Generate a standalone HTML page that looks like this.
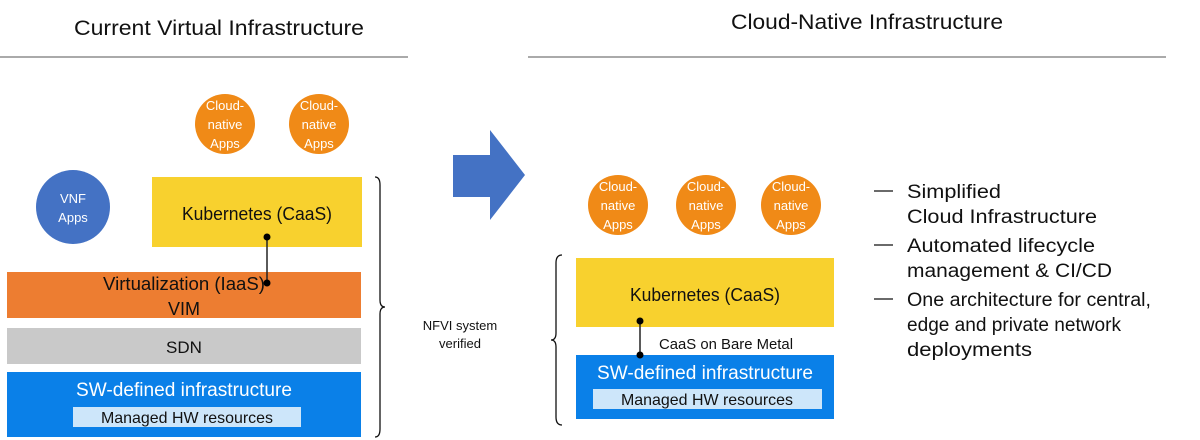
<!DOCTYPE html>
<html><head><style>body{margin:0;background:#fff}svg{display:block}text{font-family:"Liberation Sans",sans-serif}</style></head>
<body>
<svg width="1200" height="440" viewBox="0 0 1200 440" xmlns="http://www.w3.org/2000/svg">
<text x="219" y="35" font-size="21" text-anchor="middle" textLength="290" lengthAdjust="spacingAndGlyphs" fill="#111">Current Virtual Infrastructure</text>
<line x1="0" y1="57" x2="408" y2="57" stroke="#555" stroke-width="1"/>
<text x="867" y="29" font-size="21" text-anchor="middle" textLength="272" lengthAdjust="spacingAndGlyphs" fill="#111">Cloud-Native Infrastructure</text>
<line x1="528" y1="57" x2="1166" y2="57" stroke="#555" stroke-width="1"/>

<g font-size="13" fill="#fff" text-anchor="middle">
<circle cx="225" cy="124" r="30" fill="#f08a17"/>
<text x="225" y="110">Cloud-</text><text x="225" y="129">native</text><text x="225" y="148">Apps</text>
<circle cx="319" cy="124" r="30" fill="#f08a17"/>
<text x="319" y="110">Cloud-</text><text x="319" y="129">native</text><text x="319" y="148">Apps</text>
<circle cx="73" cy="207" r="37" fill="#4472c4"/>
<text x="73" y="203">VNF</text><text x="73" y="222">Apps</text>
<circle cx="618" cy="205" r="30" fill="#f08a17"/>
<text x="618" y="191">Cloud-</text><text x="618" y="210">native</text><text x="618" y="229">Apps</text>
<circle cx="706" cy="205" r="30" fill="#f08a17"/>
<text x="706" y="191">Cloud-</text><text x="706" y="210">native</text><text x="706" y="229">Apps</text>
<circle cx="791" cy="205" r="30" fill="#f08a17"/>
<text x="791" y="191">Cloud-</text><text x="791" y="210">native</text><text x="791" y="229">Apps</text>
</g>

<rect x="152" y="177" width="210" height="70" fill="#f8d12e"/>
<text x="257" y="220" font-size="18" text-anchor="middle" fill="#111" textLength="150" lengthAdjust="spacingAndGlyphs">Kubernetes (CaaS)</text>
<rect x="7" y="272" width="354" height="46" fill="#ed7d31"/>
<text x="184" y="290" font-size="18" text-anchor="middle" fill="#111" textLength="162" lengthAdjust="spacingAndGlyphs">Virtualization (IaaS)</text>
<text x="184" y="315" font-size="18" text-anchor="middle" fill="#111">VIM</text>
<rect x="7" y="328" width="354" height="36" fill="#c9c9c9"/>
<text x="184" y="353" font-size="17" text-anchor="middle" fill="#111">SDN</text>
<rect x="7" y="372" width="354" height="65" fill="#0a80e8"/>
<text x="184" y="396" font-size="19" text-anchor="middle" fill="#fff" textLength="216" lengthAdjust="spacingAndGlyphs">SW-defined infrastructure</text>
<rect x="73" y="407" width="228" height="20" fill="#cde6fa"/>
<text x="187" y="423" font-size="16" text-anchor="middle" fill="#111" textLength="172" lengthAdjust="spacingAndGlyphs">Managed HW resources</text>
<line x1="267" y1="237" x2="267" y2="283" stroke="#222" stroke-width="1.5"/>
<circle cx="267" cy="237" r="3.5" fill="#000"/><circle cx="267" cy="283" r="3.5" fill="#000"/>

<path d="M375,177 Q380,177 380,185 L380,300 Q380,307 385,307 Q380,307 380,314 L380,429 Q380,437 375,437" fill="none" stroke="#111" stroke-width="1.3"/>

<polygon points="453,155 490,155 490,130 525,175 490,220 490,197 453,197" fill="#4472c4"/>
<text x="460" y="330" font-size="13" text-anchor="middle" fill="#111">NFVI system</text>
<text x="460" y="348" font-size="13" text-anchor="middle" fill="#111">verified</text>

<path d="M562,255 Q556,255 556,263 L556,333 Q556,340 551,340 Q556,340 556,347 L556,417 Q556,425 562,425" fill="none" stroke="#111" stroke-width="1.3"/>
<rect x="576" y="258" width="258" height="69" fill="#f8d12e"/>
<text x="705" y="301" font-size="18" text-anchor="middle" fill="#111" textLength="150" lengthAdjust="spacingAndGlyphs">Kubernetes (CaaS)</text>
<text x="659" y="349" font-size="15" fill="#111" textLength="134" lengthAdjust="spacingAndGlyphs">CaaS on Bare Metal</text>
<rect x="576" y="355" width="258" height="64" fill="#0a80e8"/>
<text x="705" y="379" font-size="19" text-anchor="middle" fill="#fff" textLength="216" lengthAdjust="spacingAndGlyphs">SW-defined infrastructure</text>
<rect x="593" y="389" width="229" height="20" fill="#cde6fa"/>
<text x="707" y="405" font-size="16" text-anchor="middle" fill="#111" textLength="172" lengthAdjust="spacingAndGlyphs">Managed HW resources</text>
<line x1="640" y1="321" x2="640" y2="355" stroke="#222" stroke-width="1.5"/>
<circle cx="640" cy="321" r="3.5" fill="#000"/><circle cx="640" cy="355" r="3.5" fill="#000"/>

<g font-size="19" fill="#111">
<line x1="874" y1="191" x2="893" y2="191" stroke="#111" stroke-width="1.2"/>
<line x1="874" y1="245" x2="893" y2="245" stroke="#111" stroke-width="1.2"/>
<line x1="874" y1="299" x2="893" y2="299" stroke="#111" stroke-width="1.2"/>
<text x="907" y="198" textLength="94" lengthAdjust="spacingAndGlyphs">Simplified</text>
<text x="907" y="223" textLength="190" lengthAdjust="spacingAndGlyphs">Cloud Infrastructure</text>
<text x="907" y="252" textLength="188" lengthAdjust="spacingAndGlyphs">Automated lifecycle</text>
<text x="907" y="277" textLength="205" lengthAdjust="spacingAndGlyphs">management &amp; CI/CD</text>
<text x="907" y="306" textLength="244" lengthAdjust="spacingAndGlyphs">One architecture for central,</text>
<text x="907" y="331" textLength="214" lengthAdjust="spacingAndGlyphs">edge and private network</text>
<text x="907" y="356" textLength="125" lengthAdjust="spacingAndGlyphs">deployments</text>
</g>
</svg>
</body></html>
